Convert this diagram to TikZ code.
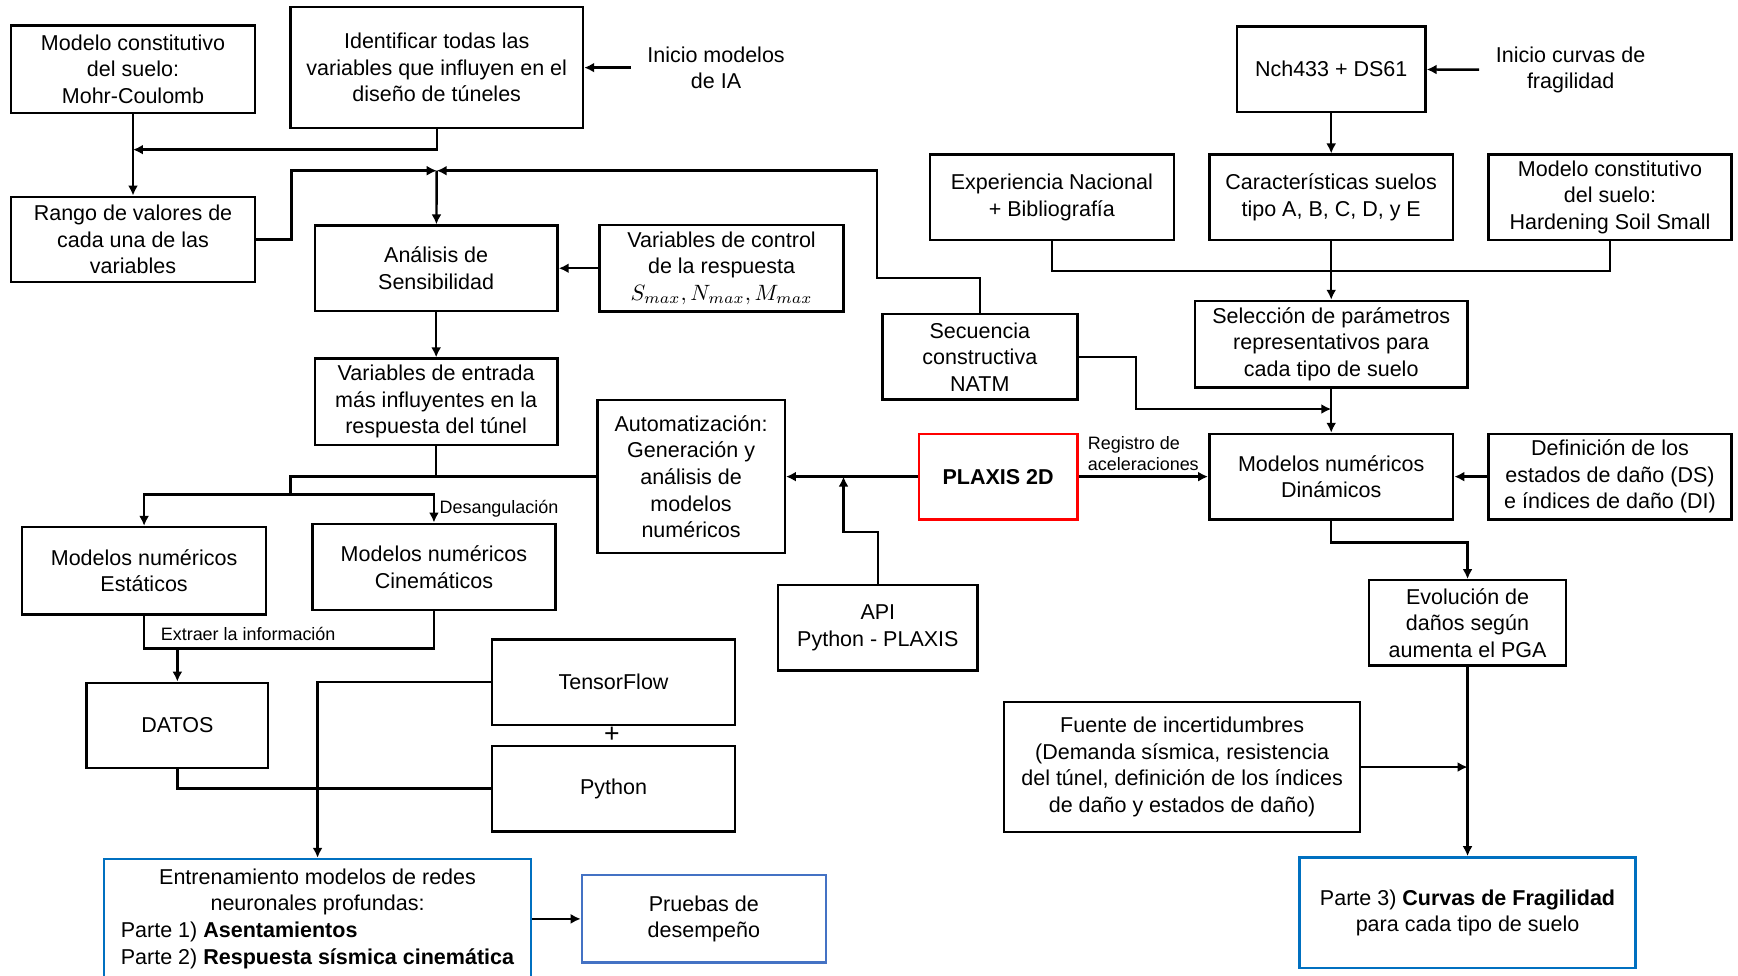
\documentclass[tikz,border=0pt]{standalone}
\usepackage{fontspec}
\setmainfont{Liberation Sans}
\usetikzlibrary{arrows.meta}
\definecolor{azulA}{RGB}{0,112,192}
\definecolor{azulB}{RGB}{68,114,196}
\definecolor{rojoP}{RGB}{255,0,0}

\begin{document}
\begin{tikzpicture}[
x=0.5pt, y=-0.5pt,
line width=1.1pt,
>={Latex[length=4.5pt,width=4.5pt]},
font=\fontsize{9.7}{12}\selectfont,
]
% \draw [help lines] (0,0) grid (1568,880);

\tikzset{
	caja/.style={draw, align=center, inner sep=1pt},
	azul/.style={caja, draw=azulA},
	tam/.style 2 args={minimum width=#1, minimum height=#2},
	peq/.style={font=\fontsize{8.1}{9.5}\selectfont, inner sep=1pt},
	txt/.style={align=center, inner xsep=7pt},
}

\useasboundingbox (0,0) rectangle (1568,880);

% modelos de IA
\node[caja, tam={110pt}{39.5pt}] (mohr) at (120,62.5) {Modelo constitutivo\\del suelo:\\Mohr-Coulomb};
\node[caja, tam={132pt}{54.5pt}] (ident) at (394,61) {Identificar todas las\\variables que influyen en el\\diseño de túneles};
\node[txt] (inicioia) at (646,61) {Inicio modelos\\de IA};
\node[caja, tam={110pt}{38.5pt}] (rango) at (120,216) {Rango de valores de\\cada una de las\\variables};
\node[caja, tam={109.5pt}{38.5pt}] (analisis) at (393.5,242) {Análisis de\\Sensibilidad};
\node[caja, tam={110pt}{39pt}] (vcontrol) at (651,242) {Variables de control\\de la respuesta\\$S_{max}, N_{max}, M_{max}$};
\node[caja, tam={109.5pt}{39pt}] (ventrada) at (393.5,362.5) {Variables de entrada\\más influyentes en la\\respuesta del túnel};
\node[caja, tam={84.5pt}{69pt}] (automat) at (623.5,430) {Automatización:\\Generación y\\análisis de\\modelos\\numéricos};
\node[caja, tam={110pt}{39.5pt}] (estaticos) at (130,515) {Modelos numéricos\\Estáticos};
\node[caja, tam={109.5pt}{39pt}] (cinematicos) at (391.5,511.5) {Modelos numéricos\\Cinemáticos};
\node[caja, tam={82pt}{38.5pt}] (datos) at (160,654.5) {DATOS};
\node[caja, tam={109.5pt}{38.5pt}] (tensorflow) at (553.5,615.5) {TensorFlow};
\node[font=\fontsize{12}{12}\selectfont, inner sep=0pt] (mas) at (552,663) {+};
\node[caja, tam={109.5pt}{38.5pt}] (python) at (553.5,711.5) {Python};
\node[caja, tam={90pt}{38.5pt}] (api) at (792,566.5) {API\\Python - PLAXIS};
\node[azul, tam={192.5pt}{54pt}] (entrenamiento) at (286.5,829) {\begin{tabular}{@{}l@{}}
\multicolumn{1}{@{}c@{}}{Entrenamiento modelos de redes}\\
\multicolumn{1}{@{}c@{}}{neuronales profundas:}\\
Parte 1) \textbf{Asentamientos}\\
Parte 2) \textbf{Respuesta sísmica cinemática}
\end{tabular}};
\node[caja, draw=azulB, tam={110pt}{39.5pt}] (pruebas) at (635,829) {Pruebas de\\desempeño};

% curvas de fragilidad
\node[caja, tam={88pt}{38.5pt}] (secuencia) at (884,322) {Secuencia\\constructiva\\NATM};
\node[caja, draw=rojoP, tam={71.5pt}{38.5pt}] (plaxis) at (900.5,430) {\textbf{PLAXIS 2D}};
\node[caja, tam={110pt}{38.5pt}] (experiencia) at (949,178) {Experiencia Nacional\\+ Bibliografía};
\node[caja, tam={85pt}{38.5pt}] (nch) at (1201,62.5) {Nch433 + DS61};
\node[txt] (iniciocurvas) at (1417,63) {Inicio curvas de\\fragilidad};
\node[caja, tam={110pt}{38.5pt}] (caracteristicas) at (1201,178) {Características suelos\\tipo A, B, C, D, y E};
\node[caja, tam={109.5pt}{38.5pt}] (hardening) at (1452.5,178) {Modelo constitutivo\\del suelo:\\Hardening Soil Small};
\node[caja, tam={123pt}{39pt}] (seleccion) at (1201,310.5) {Selección de parámetros\\representativos para\\cada tipo de suelo};
\node[caja, tam={110pt}{38.5pt}] (dinamicos) at (1201,430) {Modelos numéricos\\Dinámicos};
\node[caja, tam={109.5pt}{38.5pt}] (definicion) at (1452.5,430) {Definición de los\\estados de daño (DS)\\e índices de daño (DI)};
\node[caja, tam={89pt}{38.5pt}] (evolucion) at (1324,562) {Evolución de\\daños según\\aumenta el PGA};
\node[caja, tam={160.5pt}{58.5pt}] (fuente) at (1066.5,692) {Fuente de incertidumbres\\(Demanda sísmica, resistencia\\del túnel, definición de los índices\\de daño y estados de daño)};
\node[azul, tam={151.5pt}{50pt}] (curvas) at (1324,823.5) {Parte 3) \textbf{Curvas de Fragilidad}\\para cada tipo de suelo};

% uniones
\coordinate (jm) at (120,135);
\coordinate (ja) at (394,154);
\coordinate (jv) at (262,430);
\coordinate (jb) at (262,446);
\coordinate (je) at (160,585);
\coordinate (jp) at (761,430);
\coordinate (jd) at (1201,369);
\coordinate (jf) at (1324,692);

\draw[->] (inicioia) -- (ident);
\draw[->] (mohr) -- (rango);
\draw[->] (ident.south) |- (jm);
\draw[->] (rango.east) -- ++(32,0) |- (ja);
\draw[->] (secuencia.north) |- (791,251) |- (ja);
\draw[->] (ja) -- (analisis);
\draw[->] (vcontrol) -- (analisis);
\draw[->] (analisis) -- (ventrada);
\draw (ventrada.south) -- (ventrada.south |- jv);
\draw (automat.west) -- (jv) -- (jb);
\draw[->] (jb) -| (estaticos.north);
\draw[->] (jb) -| node[peq, pos=0.75, anchor=west, xshift=1pt] {Desangulación} (cinematicos.north);
\draw (estaticos.south) |- (je) -| (cinematicos.south);
\node[peq, anchor=west] (extraer) at (142,572) {Extraer la información};
\draw[->] (je) -- (datos);
\draw (datos.south) |- (python.west);
\draw[->] (tensorflow.west) -| (entrenamiento.north);
\draw[->] (entrenamiento) -- (pruebas);

\draw[->] (plaxis) -- (automat);
\draw[->] (api.north) |- (761,480) -- (jp);
\draw[->] (plaxis) -- node[peq, above=1pt, align=left] {Registro de\\aceleraciones} (dinamicos);
\draw[->] (iniciocurvas) -- (nch);
\draw[->] (nch) -- (caracteristicas);
\draw (experiencia.south) -- ++(0,27) -| (hardening.south);
\draw[->] (caracteristicas) -- (seleccion);
\draw[->] (secuencia.east) -| (1025,369) -- (jd);
\draw[->] (seleccion) -- (dinamicos);
\draw[->] (definicion) -- (dinamicos);
\draw[->] (dinamicos.south) -- ++(0,20) -| (evolucion.north);
\draw[->] (evolucion) -- (curvas);
\draw[->] (fuente) -- (jf);

\end{tikzpicture}
\end{document}
